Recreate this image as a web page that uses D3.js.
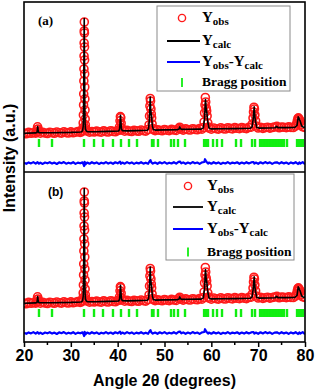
<!DOCTYPE html>
<html>
<head>
<meta charset="utf-8">
<script src="https://cdn.jsdelivr.net/npm/d3@7"></script>
<style>
  body { margin: 0; background: #fff; }
  svg { display: block; }
</style>
</head>
<body>
<div id="chart"></div>
<script>
// Rietveld refinement plot, two panels (a) and (b) sharing the 2theta axis.

// 2theta tick values
var majorTicks = [20, 30, 40, 50, 60, 70, 80];
var minorTicks = [25, 35, 45, 55, 65, 75];

// observed intensity [2theta, counts]
var obsData = [
  [20.0,60],[20.5,52],[21.0,66],[21.5,57],[22.0,63],[22.5,59],
  [22.7,72],[22.8,95],[22.9,122],[23.0,100],[23.1,74],
  [23.5,58],[24.0,67],[24.5,60],[25.0,55],[25.5,68],[26.0,62],[26.5,57],[27.0,70],[27.5,63],
  [28.0,59],[28.5,72],[29.0,64],[29.5,60],[30.0,71],[30.5,62],[31.0,68],[31.5,74],[32.0,66],[32.3,72],
  [32.5,85],[32.58,110],[32.64,160],[32.68,240],[32.72,340],[32.75,450],[32.78,580],[32.8,700],
  [32.82,830],[32.84,960],[32.86,1080],[32.88,1170],[32.9,1060],[32.92,920],[32.94,790],[32.96,650],
  [32.98,520],[33.0,400],[33.03,290],[33.06,200],[33.1,140],[33.15,105],[33.22,88],
  [33.5,80],[34.0,68],[34.5,75],[35.0,70],[35.5,79],[36.0,72],[36.5,68],[37.0,81],[37.5,74],
  [38.0,70],[38.5,83],[39.0,76],[39.5,72],[40.0,84],
  [40.3,90],[40.4,122],[40.5,182],[40.58,224],[40.66,212],[40.74,158],[40.82,112],[40.9,90],
  [41.5,78],[42.0,86],[42.5,79],[43.0,75],[43.5,88],[44.0,81],[44.5,77],[45.0,90],[45.5,83],[46.0,79],
  [46.5,95],[46.7,140],[46.8,230],[46.88,330],[46.95,405],[47.02,380],[47.1,300],[47.18,250],
  [47.26,210],[47.35,150],[47.5,105],[47.7,92],
  [48.0,84],[48.5,92],[49.0,87],[49.5,82],[50.0,95],[50.5,88],[51.0,84],[51.5,97],[52.0,90],[52.5,86],
  [53.0,104],[53.25,118],[53.5,100],[54.0,89],[54.5,101],[55.0,94],[55.5,90],[56.0,103],[56.5,96],
  [57.0,92],[57.5,105],[58.0,98],
  [58.3,115],[58.45,170],[58.55,260],[58.65,340],[58.72,415],[58.8,370],[58.9,310],[59.0,280],
  [59.1,230],[59.25,160],[59.4,120],
  [59.5,108],[60.0,98],[60.5,110],[61.0,103],[61.5,99],[62.0,112],[62.5,104],[63.0,100],[63.5,113],
  [64.0,106],[64.5,101],[65.0,114],[65.5,107],[66.0,103],[66.5,115],[67.0,108],[67.5,104],[68.0,116],
  [68.5,118],[68.75,150],[68.9,210],[69.0,270],[69.1,318],[69.2,300],[69.3,240],[69.45,180],[69.6,130],
  [70.0,110],[70.5,117],[71.0,106],[71.5,113],[72.0,118],[72.5,109],[73.0,115],[73.5,120],[74.0,126],
  [74.5,112],[75.0,119],[75.5,118],[76.0,113],[76.5,121],[77.0,116],[77.5,115],
  [78.0,130],[78.2,150],[78.35,180],[78.5,205],[78.6,212],[78.7,200],[78.85,190],[79.0,170],[79.2,140],
  [79.5,122],[80.0,115]
];

// calculated profile [2theta, counts]
var calcData = [
  [20.0,58],[22.5,61],[22.75,64],[22.85,92],[22.92,124],[23.0,96],[23.1,67],[23.3,62],
  [26.0,63],[30.0,66],[32.2,70],[32.5,82],[32.65,130],[32.72,320],[32.78,720],[32.86,1205],
  [32.92,780],[32.98,360],[33.04,160],[33.12,98],[33.3,80],[33.6,73],
  [35.0,72],[38.0,76],[40.2,80],[40.4,96],[40.5,150],[40.6,236],[40.7,168],[40.8,102],[41.0,83],
  [42.0,81],[44.0,84],[46.3,87],[46.6,102],[46.8,205],[46.95,420],[47.05,300],[47.15,252],
  [47.25,222],[47.4,132],[47.6,96],[48.0,89],
  [50.0,91],[52.8,94],[53.1,100],[53.25,122],[53.4,103],[53.7,96],
  [55.0,97],[57.8,99],[58.3,111],[58.55,205],[58.75,395],[58.9,300],[59.05,262],[59.2,182],
  [59.5,110],[60.0,101],
  [62.0,102],[65.0,104],[68.3,107],[68.7,121],[68.95,205],[69.15,322],[69.3,222],[69.45,172],
  [69.7,116],[70.2,109],
  [72.0,110],[73.6,112],[73.95,126],[74.2,114],[76.0,114],[77.8,115],
  [78.3,136],[78.55,222],[78.75,202],[78.95,182],[79.3,131],[79.6,119],[80.0,117]
];

// difference Yobs - Ycalc [2theta, counts]
var diffData = [
  [20.0,2],[20.5,-8],[21.0,6],[21.5,-4],[22.0,9],[22.5,-6],[22.9,8],[23.2,-7],[23.5,3],[24.0,-9],
  [24.5,5],[25.0,-3],[25.5,8],[26.0,-6],[26.5,4],[27.0,-10],[27.5,7],[28.0,-2],[28.5,9],[29.0,-7],
  [29.5,3],[30.0,-5],[30.5,8],[31.0,-9],[31.5,4],[32.0,-3],[32.5,6],[32.75,-18],[32.85,-30],
  [32.95,12],[33.1,-14],[33.5,5],[34.0,-7],[34.5,8],[35.0,-4],[35.5,6],[36.0,-9],[36.5,3],[37.0,-5],
  [37.5,9],[38.0,-6],[38.5,4],[39.0,-8],[39.5,7],[40.0,-3],[40.5,14],[40.7,-8],[41.0,5],[41.5,-7],
  [42.0,9],[42.5,-4],[43.0,6],[43.5,-9],[44.0,4],[44.5,-5],[45.0,8],[45.5,-6],[46.0,3],[46.5,-8],
  [46.85,20],[47.0,28],[47.15,8],[47.5,-6],[48.0,5],[48.5,-8],[49.0,7],[49.5,-4],[50.0,9],[50.5,-7],
  [51.0,3],[51.5,-5],[52.0,8],[52.5,-6],[53.0,12],[53.3,15],[53.6,-4],[54.0,6],[54.5,-8],[55.0,4],
  [55.5,-6],[56.0,9],[56.5,-3],[57.0,5],[57.5,-9],[58.0,6],[58.5,10],[58.65,38],[58.8,22],[59.0,10],
  [59.3,-6],[59.5,4],[60.0,-7],[60.5,8],[61.0,-4],[61.5,6],[62.0,-9],[62.5,3],[63.0,-5],[63.5,9],
  [64.0,-7],[64.5,4],[65.0,-3],[65.5,7],[66.0,-8],[66.5,5],[67.0,-6],[67.5,8],[68.0,-4],[68.5,6],
  [69.0,10],[69.2,-6],[69.5,5],[70.0,-8],[70.5,7],[71.0,-5],[71.5,9],[72.0,-3],[72.5,6],[73.0,-9],
  [73.5,4],[74.0,7],[74.5,-6],[75.0,8],[75.5,-4],[76.0,5],[76.5,-9],[77.0,6],[77.5,-5],[78.0,8],
  [78.5,-10],[78.8,6],[79.0,-7],[79.5,9],[80.0,-12]
];

// Bragg reflection positions (2theta)
var braggPositions = [
  23.20, 25.98, 32.81, 34.95, 36.87, 39.00, 40.71, 42.42, 44.13, 47.33, 47.65, 48.61,
  51.39, 52.03, 52.88, 54.38, 58.45, 58.85, 59.29, 60.36, 61.21, 62.28, 65.27, 66.34, 68.69, 69.33,
  70.40, 70.72, 71.04, 71.36, 71.68, 72.00, 72.32, 72.64, 72.96, 73.28, 73.60, 73.92, 74.24,
  74.56, 74.88, 75.20, 75.52, 76.16, 78.30, 78.62, 78.94, 79.30, 79.58
];

var panelLabels = ['(a)', '(b)'];

// layout
var width = 315, height = 390;
var plotLeft = 24, plotRight = 305, plotTop = 2, plotMid = 172, plotBottom = 342;
var diffOffset = -240;          // vertical shift of the difference curve
var braggRange = [-80, 0];      // vertical extent of the Bragg markers
var yDomain = [-330, 1370];

var panels = [
  { top: plotTop, bottom: plotMid,
    label: { x: 38, y: 25, font: 'Liberation Serif, Times New Roman, serif', size: 13 },
    legend: { box: [157, 6, 133, 85], mx: 182, lx: [167, 200], tx: 202, rows: [18, 41, 62, 82.5] } },
  { top: plotMid, bottom: plotBottom,
    label: { x: 48, y: 196, font: 'Liberation Sans, Arial, sans-serif', size: 12 },
    legend: { box: [166, 174, 128, 86], mx: 188, lx: [173, 203], tx: 207, rows: [186, 207, 229, 252] } }
];

var red = '#ff1a1a', blue = '#0000ff', green = '#11ee11';
var sans = 'Liberation Sans, Arial, Helvetica, sans-serif';
var serif = 'Liberation Serif, Times New Roman, serif';

var svg = d3.select('#chart')
  .append('svg')
    .attr('width', width)
    .attr('height', height);

var x = d3.scaleLinear().domain([20, 80]).range([plotLeft, plotRight]);

panels.forEach(function(p, i) {
  var y = d3.scaleLinear().domain(yDomain).range([p.bottom, p.top]);
  var clipId = 'clip' + i;
  svg.append('clipPath').attr('id', clipId)
    .append('rect')
      .attr('x', plotLeft).attr('y', p.top)
      .attr('width', plotRight - plotLeft).attr('height', p.bottom - p.top);

  var g = svg.append('g').attr('clip-path', 'url(#' + clipId + ')');

  // observed points
  g.selectAll('circle.obs')
    .data(obsData)
    .join('circle')
      .attr('class', 'obs')
      .attr('cx', function(d) { return x(d[0]); })
      .attr('cy', function(d) { return y(d[1]); })
      .attr('r', 4)
      .attr('fill', 'none')
      .attr('stroke', red)
      .attr('stroke-width', 1.6);

  // calculated profile
  g.append('path')
    .datum(calcData)
    .attr('fill', 'none')
    .attr('stroke', '#000')
    .attr('stroke-width', 1.6)
    .attr('stroke-linejoin', 'round')
    .attr('d', d3.line()
      .x(function(d) { return x(d[0]); })
      .y(function(d) { return y(d[1]); }));

  // Bragg markers
  g.selectAll('line.bragg')
    .data(braggPositions)
    .join('line')
      .attr('class', 'bragg')
      .attr('x1', function(d) { return x(d); })
      .attr('x2', function(d) { return x(d); })
      .attr('y1', y(braggRange[0]))
      .attr('y2', y(braggRange[1]))
      .attr('stroke', green)
      .attr('stroke-width', 2.4);

  // difference curve
  g.append('path')
    .datum(diffData)
    .attr('fill', 'none')
    .attr('stroke', blue)
    .attr('stroke-width', 2.2)
    .attr('stroke-linejoin', 'round')
    .attr('d', d3.line()
      .x(function(d) { return x(d[0]); })
      .y(function(d) { return y(d[1] + diffOffset); }));

  // panel label
  svg.append('text')
    .attr('x', p.label.x)
    .attr('y', p.label.y)
    .attr('font-family', p.label.font)
    .attr('font-size', p.label.size)
    .attr('font-weight', 'bold')
    .text(panelLabels[i]);

  // legend
  var L = p.legend;
  var lg = svg.append('g');
  lg.append('rect')
    .attr('x', L.box[0]).attr('y', L.box[1])
    .attr('width', L.box[2]).attr('height', L.box[3])
    .attr('fill', '#fff')
    .attr('stroke', '#8a8a8a')
    .attr('stroke-width', 1);
  lg.append('circle')
    .attr('cx', L.mx).attr('cy', L.rows[0]).attr('r', 3.6)
    .attr('fill', 'none').attr('stroke', red).attr('stroke-width', 1.4);
  lg.append('line')
    .attr('x1', L.lx[0]).attr('x2', L.lx[1]).attr('y1', L.rows[1]).attr('y2', L.rows[1])
    .attr('stroke', '#000').attr('stroke-width', 1.8);
  lg.append('line')
    .attr('x1', L.lx[0]).attr('x2', L.lx[1]).attr('y1', L.rows[2]).attr('y2', L.rows[2])
    .attr('stroke', blue).attr('stroke-width', 2);
  lg.append('line')
    .attr('x1', L.mx).attr('x2', L.mx).attr('y1', L.rows[3] - 4.5).attr('y2', L.rows[3] + 4.5)
    .attr('stroke', green).attr('stroke-width', 1.8);

  var legendTexts = [
    [['Y', 0], ['obs', 1]],
    [['Y', 0], ['calc', 1]],
    [['Y', 0], ['obs', 1], ['-', 0], ['Y', 0], ['calc', 1]],
    [['Bragg position', 2]]
  ];
  legendTexts.forEach(function(parts, r) {
    var t = lg.append('text')
      .attr('x', L.tx)
      .attr('y', L.rows[r] + 3.5)
      .attr('font-family', serif)
      .attr('font-weight', 'bold');
    var level = 0;
    parts.forEach(function(pt) {
      var s = t.append('tspan').text(pt[0]);
      if (pt[1] === 1) {
        s.attr('font-size', 11).attr('dy', level === 1 ? 0 : 3.5);
        level = 1;
      } else {
        s.attr('font-size', pt[1] === 2 ? 13.5 : 15).attr('dy', level === 1 ? -3.5 : 0);
        level = 0;
      }
    });
  });
});

// frame
svg.append('rect')
  .attr('x', plotLeft).attr('y', plotTop)
  .attr('width', plotRight - plotLeft).attr('height', plotBottom - plotTop)
  .attr('fill', 'none').attr('stroke', '#000').attr('stroke-width', 1.6);
svg.append('line')
  .attr('x1', plotLeft).attr('x2', plotRight).attr('y1', plotMid).attr('y2', plotMid)
  .attr('stroke', '#000').attr('stroke-width', 1.6);

// x axis
var xAxis = svg.append('g')
  .attr('transform', 'translate(0,' + plotBottom + ')')
  .call(d3.axisBottom(x).tickValues(majorTicks).tickSize(5).tickPadding(3).tickFormat(d3.format('d')));
xAxis.select('.domain').remove();
xAxis.selectAll('line').attr('stroke-width', 1.5);
xAxis.selectAll('text')
  .attr('font-family', sans)
  .attr('font-size', 16)
  .attr('font-weight', 'bold')
  .attr('fill', '#000');
xAxis.selectAll('line.minor')
  .data(minorTicks)
  .join('line')
    .attr('class', 'minor')
    .attr('x1', function(d) { return x(d); })
    .attr('x2', function(d) { return x(d); })
    .attr('y1', 0).attr('y2', 3)
    .attr('stroke', '#000').attr('stroke-width', 1.5);

// axis titles
svg.append('text')
  .attr('x', (plotLeft + plotRight) / 2)
  .attr('y', 386)
  .attr('text-anchor', 'middle')
  .attr('font-family', sans)
  .attr('font-size', 16)
  .attr('font-weight', 'bold')
  .text('Angle 2θ (degrees)');

svg.append('text')
  .attr('transform', 'translate(15,158) rotate(-90)')
  .attr('text-anchor', 'middle')
  .attr('font-family', sans)
  .attr('font-size', 16)
  .attr('font-weight', 'bold')
  .text('Intensity (a.u.)');
</script>
</body>
</html>
